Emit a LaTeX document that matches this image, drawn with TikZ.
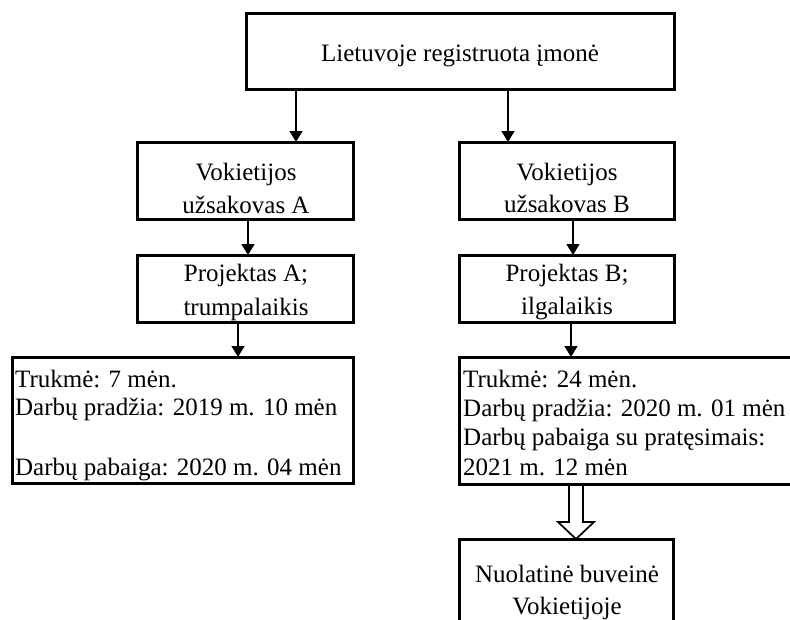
\documentclass[tikz,border=0pt]{standalone}
\usepackage{fontspec}
\setmainfont{Liberation Serif}
\usetikzlibrary{arrows.meta,calc}
\begin{document}
\begin{tikzpicture}[x=1pt,y=-1pt,
  box/.style={draw=black,line width=3pt,inner sep=0pt,outer sep=0pt,anchor=north west},
  txt/.style={inner sep=0pt,anchor=base,font=\fontsize{25}{29}\selectfont},
  ltxt/.style={txt,anchor=base west},
  arr/.style={line width=1.3pt,-{Triangle[width=13pt,length=11pt]}},
  hollow/.style={line width=1.7pt,line join=miter}]
\useasboundingbox (0,0) rectangle (790,619);
\clip (0,0) rectangle (790,619);

% boxes
\node[box,minimum width=428,minimum height=76] (top) at (246,13) {};
\node[box,minimum width=216,minimum height=77] (a1) at (137,142) {};
\node[box,minimum width=216,minimum height=67] (a2) at (137,255) {};
\node[box,minimum width=341,minimum height=126] (a3) at (12,357) {};
\node[box,minimum width=215,minimum height=77] (b1) at (459,142) {};
\node[box,minimum width=215,minimum height=67] (b2) at (459,255) {};
\node[box,minimum width=360,minimum height=127] (b3) at (459,357) {};
\node[box,minimum width=214,minimum height=110] (perm) at (459,539) {};

% texts
\node[txt] (toptext) at (460,61) {Lietuvoje registruota įmonė};
\node[txt] (a1t1) at (246,180) {Vokietijos};
\node[txt] (a1t2) at (246,213) {užsakovas A};
\node[txt] (a2t1) at (246,281) {Projektas A;};
\node[txt] (a2t2) at (246,315) {trumpalaikis};
\node[txt] (b1t1) at (567,180) {Vokietijos};
\node[txt] (b1t2) at (567,212) {užsakovas B};
\node[txt] (b2t1) at (567,281) {Projektas B;};
\node[txt] (b2t2) at (567,314) {ilgalaikis};
\node[ltxt] (a3t1) at (15,387) {Trukmė: 7 mėn.};
\node[ltxt] (a3t2) at (15,415) {Darbų pradžia: 2019 m. 10 mėn};
\node[ltxt] (a3t3) at (15,475) {Darbų pabaiga: 2020 m. 04 mėn};
\node[ltxt] (b3t1) at (463,387) {Trukmė: 24 mėn.};
\node[ltxt] (b3t2) at (463,416) {Darbų pradžia: 2020 m. 01 mėn};
\node[ltxt] (b3t3) at (463,445) {Darbų pabaiga su pratęsimais:};
\node[ltxt] (b3t4) at (463,475) {2021 m. 12 mėn};
\node[txt] (permt1) at (567,582) {Nuolatinė buveinė};
\node[txt] (permt2) at (567,614) {Vokietijoje};

% connector columns
\coordinate (xa) at (296,0);
\coordinate (xb) at (508,0);
\coordinate (xc) at (248,0);
\coordinate (xd) at (238,0);
\coordinate (xe) at (573,0);
\coordinate (xf) at (571,0);
\coordinate (xg) at (576,0);

\draw[arr] (top.south -| xa) -- (a1.north -| xa);
\draw[arr] (top.south -| xb) -- (b1.north -| xb);
\draw[arr] (a1.south -| xc) -- (a2.north -| xc);
\draw[arr] (a2.south -| xd) -- (a3.north -| xd);
\draw[arr] (b1.south -| xe) -- (b2.north -| xe);
\draw[arr] (b2.south -| xf) -- (b3.north -| xf);

% hollow block arrow
\draw[hollow] ($(b3.south -| xg)+(-7,0)$) -- ($(perm.north -| xg)+(-7,-17)$)
  -- ($(perm.north -| xg)+(-18,-17)$) -- (perm.north -| xg)
  -- ($(perm.north -| xg)+(18,-17)$) -- ($(perm.north -| xg)+(7,-17)$)
  -- ($(b3.south -| xg)+(7,0)$);
\end{tikzpicture}
\end{document}
